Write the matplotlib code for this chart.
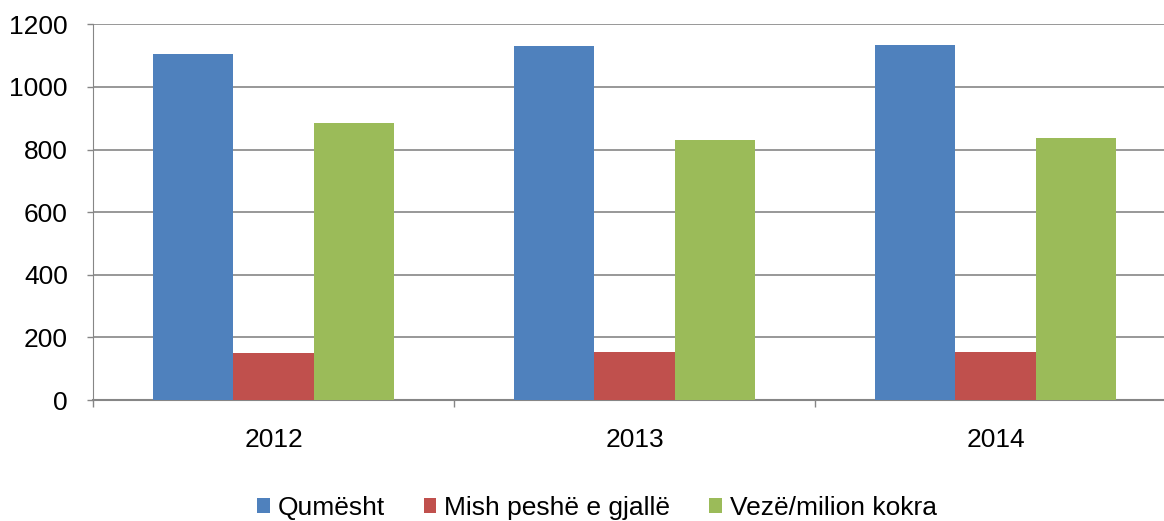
import matplotlib
matplotlib.use("Agg")
import matplotlib.pyplot as plt
import numpy as np

years = ["2012", "2013", "2014"]
series_names = ["Qumësht", "Mish peshë e gjallë", "Vezë/milion kokra"]
qumesht = [1104, 1131, 1134]
mish = [149, 152, 154]
veze = [886, 830, 836]
colors = ["#4F81BD", "#C0504D", "#9BBB59"]

plt.rcParams["font.family"] = ["Liberation Sans", "DejaVu Sans"]

fig = plt.figure(figsize=(11.64, 5.21), dpi=100)
ax = fig.add_axes([93 / 1164, 1 - 400 / 521, 1083 / 1164, 375.7 / 521])

x = np.arange(len(years))
w = 0.2225
for i, (vals, name) in enumerate(zip([qumesht, mish, veze], series_names)):
    ax.bar(x + (i - 1) * w, vals, width=w, color=colors[i], label=name, zorder=3)

ax.set_xlim(-0.5, 2.5)
ax.set_ylim(0, 1200)
ax.set_yticks(range(0, 1201, 200))
ax.grid(axis="y", color="#868686", linewidth=1.2, zorder=0)

ax.set_xticks(x)
ax.set_xticklabels(years)
ax.set_xticks([-0.5, 0.5, 1.5], minor=True)
ax.tick_params(axis="x", which="major", length=0, pad=20, labelsize=19)
ax.tick_params(axis="x", which="minor", length=5, color="#868686", width=1)
ax.tick_params(axis="y", length=4, color="#868686", width=1, labelsize=19, pad=14)

for s in ["top", "right"]:
    ax.spines[s].set_visible(False)
ax.spines["left"].set_color("#868686")
ax.spines["bottom"].set_color("#868686")
ax.spines["bottom"].set_linewidth(1.5)

fig.legend(loc="center", bbox_to_anchor=(597 / 1164, 1 - 508 / 521), ncol=3, frameon=False,
           fontsize=19, handlelength=0.48, handleheight=0.48, handletextpad=0.3,
           columnspacing=1.48, borderpad=0)

fig.savefig("out.png", dpi=100)
